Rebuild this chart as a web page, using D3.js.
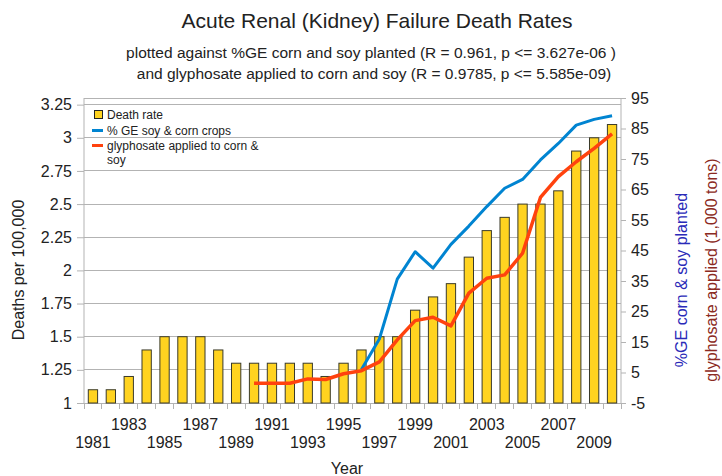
<!DOCTYPE html>
<html><head><meta charset="utf-8">
<script src="https://cdn.jsdelivr.net/npm/d3@7"></script>
<style>body{margin:0;background:#fff;} svg{display:block;font-family:"Liberation Sans",Arial,sans-serif;}</style>
</head><body>
<svg id="c" width="722" height="476"></svg>
<script>
const years = d3.range(1981, 2011).map(String);
const deathRate = [1.1,1.1,1.2,1.4,1.5,1.5,1.5,1.4,1.3,1.3,1.3,1.3,1.3,1.2,1.3,1.4,1.5,1.5,1.7,1.8,1.9,2.1,2.3,2.4,2.5,2.5,2.6,2.9,3.0,3.1];
const geCrops = [null,null,null,null,null,null,null,null,null,null,null,null,null,null,null,6,16,35.6,44.6,39.2,47,53,59.4,65.4,68.3,74.7,80.1,86.1,88,89.2];
const glyphosate = [null,null,null,null,null,null,null,null,null,1.5,1.5,1.5,2.9,2.7,4.6,5.6,8.5,15.7,22,23.1,20.3,31,35.9,37,44.1,62.4,69.2,74.1,78.5,83.2];
const leftTicks = [1,1.25,1.5,1.75,2,2.25,2.5,2.75,3,3.25];
const rightTicks = [-5,5,15,25,35,45,55,65,75,85,95];
const xLabelYears = ["1981","1983","1985","1987","1989","1991","1993","1995","1997","1999","2001","2003","2005","2007","2009"];

const svg = d3.select("#c");
const L = 84, R = 621, T = 98, B = 403;
const x = d3.scaleBand().domain(years).range([L, R]).paddingInner(0.48).paddingOuter(0.24);
const yL = d3.scaleLinear().domain([1, 3.3]).range([B, T]);
const yR = d3.scaleLinear().domain([-5, 95]).range([B, T]);
const grid = "#b3b3b3", txt = "#222";

// gridlines
svg.append("g").selectAll("line").data(leftTicks).join("line")
  .attr("x1", L).attr("x2", R).attr("y1", d => yL(d)).attr("y2", d => yL(d))
  .attr("stroke", grid).attr("stroke-width", 1).attr("shape-rendering", "crispEdges");
svg.append("line").attr("x1", L).attr("x2", R).attr("y1", T).attr("y2", T)
  .attr("stroke", grid).attr("shape-rendering", "crispEdges");

// left axis
const gl = svg.append("g").attr("transform", `translate(${L},0)`)
  .call(d3.axisLeft(yL).tickValues(leftTicks).tickSize(7).tickPadding(5).tickFormat(d => String(d)));
gl.select(".domain").attr("stroke", grid).attr("d", `M0,${B}V${T}`);
gl.selectAll(".tick line").attr("stroke", grid);
gl.selectAll("text").attr("fill", txt).attr("font-size", 16).attr("font-family", "Liberation Sans");

// right axis
const gr = svg.append("g").attr("transform", `translate(${R},0)`)
  .call(d3.axisRight(yR).tickValues(rightTicks).tickSize(5).tickPadding(5).tickFormat(d => String(d)));
gr.select(".domain").attr("stroke", grid).attr("d", `M0,${B}V${T}`);
gr.selectAll(".tick line").attr("stroke", grid);
gr.selectAll("text").attr("fill", txt).attr("font-size", 16).attr("font-family", "Liberation Sans");

// x axis
const step = x.step();
svg.append("line").attr("x1", L).attr("x2", R).attr("y1", B).attr("y2", B).attr("stroke", grid).attr("shape-rendering", "crispEdges");
const bounds = years.map(d => x(d) - (step - x.bandwidth()) / 2).concat([R]);
svg.append("g").selectAll("line").data(bounds).join("line")
  .attr("x1", d => d).attr("x2", d => d).attr("y1", B).attr("y2", B + 6)
  .attr("stroke", grid).attr("shape-rendering", "crispEdges");
svg.append("g").selectAll("text").data(xLabelYears).join("text")
  .attr("x", d => x(d) + x.bandwidth() / 2)
  .attr("y", d => (years.indexOf(d) % 4 === 0) ? 448 : 430)
  .attr("text-anchor", "middle").attr("font-size", 16).attr("fill", txt).text(d => d);

// bars
svg.append("g").selectAll("rect").data(years).join("rect")
  .attr("x", d => x(d)).attr("width", x.bandwidth())
  .attr("y", (d, i) => yL(deathRate[i])).attr("height", (d, i) => yL(1) - yL(deathRate[i]))
  .attr("fill", "#ffd320").attr("stroke", "#3a3a2a").attr("stroke-width", 1);

// lines
const lineGen = d3.line().defined(d => d.v !== null).x(d => x(d.y) + x.bandwidth() / 2).y(d => yR(d.v));
svg.append("path").datum(years.map((y, i) => ({y, v: geCrops[i]})))
  .attr("d", lineGen).attr("fill", "none").attr("stroke", "#0084d1").attr("stroke-width", 3).attr("stroke-linejoin", "round");
svg.append("path").datum(years.map((y, i) => ({y, v: glyphosate[i]})))
  .attr("d", lineGen).attr("fill", "none").attr("stroke", "#ff420e").attr("stroke-width", 3.5).attr("stroke-linejoin", "round");

// legend
const lg = svg.append("g").attr("font-size", 12).attr("fill", txt);
lg.append("rect").attr("x", 94.5).attr("y", 110.5).attr("width", 8).attr("height", 8).attr("fill", "#ffd320").attr("stroke", "#222");
lg.append("text").attr("x", 107).attr("y", 119).text("Death rate");
lg.append("line").attr("x1", 92).attr("x2", 103).attr("y1", 130.5).attr("y2", 130.5).attr("stroke", "#0084d1").attr("stroke-width", 3);
lg.append("text").attr("x", 107).attr("y", 134.5).text("% GE soy & corn crops");
lg.append("line").attr("x1", 92).attr("x2", 103).attr("y1", 145.5).attr("y2", 145.5).attr("stroke", "#ff420e").attr("stroke-width", 3);
lg.append("text").attr("x", 107).attr("y", 149.5).text("glyphosate applied to corn &");
lg.append("text").attr("x", 107).attr("y", 164).text("soy");

// titles
svg.append("text").attr("x", 377).attr("y", 28).attr("text-anchor", "middle").attr("font-size", 21).attr("fill", txt)
  .text("Acute Renal (Kidney) Failure Death Rates");
svg.append("text").attr("x", 371).attr("y", 58).attr("text-anchor", "middle").attr("font-size", 15.5).attr("fill", txt)
  .text("plotted against %GE corn and soy planted (R = 0.961, p <= 3.627e-06 )");
svg.append("text").attr("x", 374).attr("y", 79).attr("text-anchor", "middle").attr("font-size", 15.5).attr("fill", txt)
  .text("and glyphosate applied to corn and soy (R = 0.9785, p <= 5.585e-09)");

svg.append("text").attr("transform", "translate(24,270) rotate(-90)").attr("text-anchor", "middle")
  .attr("font-size", 16).attr("fill", txt).text("Deaths per 100,000");
svg.append("text").attr("transform", "translate(687,280) rotate(-90)").attr("text-anchor", "middle")
  .attr("font-size", 16).attr("fill", "#2a2ab8").text("%GE corn & soy planted");
svg.append("text").attr("transform", "translate(717,270) rotate(-90)").attr("text-anchor", "middle")
  .attr("font-size", 16).attr("fill", "#8b2a22").text("glyphosate applied (1,000 tons)");
svg.append("text").attr("x", 347).attr("y", 474).attr("text-anchor", "middle").attr("font-size", 16).attr("fill", txt).text("Year");
</script>
</body></html>
